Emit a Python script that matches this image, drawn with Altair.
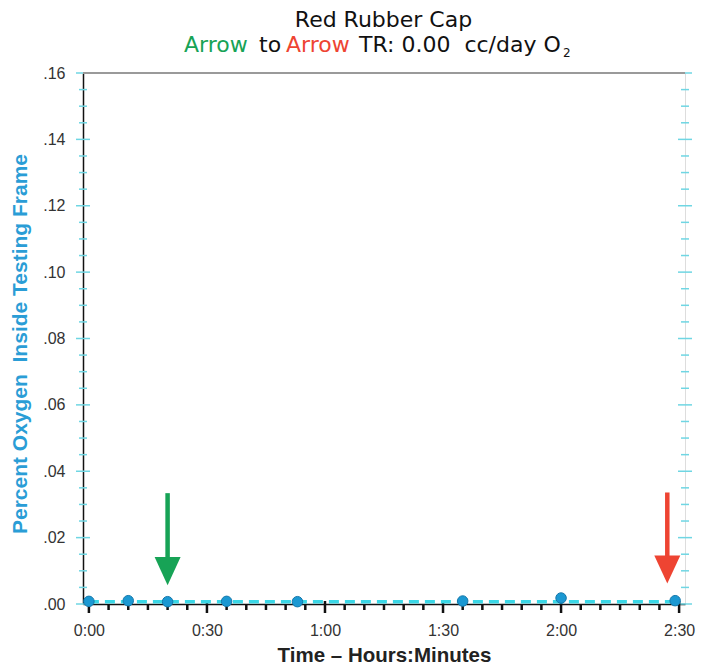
import altair as alt
import pandas as pd

# ---------------- data ----------------
time_min = [0, 10, 20, 35, 53, 95, 120, 149]
oxygen_pct = [0.0008, 0.0010, 0.0007, 0.0008, 0.0007, 0.0009, 0.0018, 0.0010]

fit_time = [0, 150]
fit_pct = [0.0007, 0.0007]

arrow_time = [20, 147]
arrow_top = [0.0334, 0.0336]
arrow_shaft_end = [0.0125, 0.0130]
arrow_head = [0.0099, 0.0104]
arrow_color = ["#17a356", "#ee4432"]

x_label_values = [0, 30, 60, 90, 120, 150]
y_label_values = [0.0, 0.02, 0.04, 0.06, 0.08, 0.10, 0.12, 0.14, 0.16]
x_minor_ticks = list(range(0, 151, 5))
y_minor_ticks = [round(i * 0.005, 3) for i in range(33)]

X_DOMAIN = [-1.5, 151.5]
Y_DOMAIN = [0, 0.16]
W, H = 602, 531

xs = alt.Scale(domain=X_DOMAIN, nice=False, zero=False)
ys = alt.Scale(domain=Y_DOMAIN, nice=False, zero=False)

pts = pd.DataFrame({"t": time_min, "pct": oxygen_pct})
fit = pd.DataFrame({"t": fit_time, "pct": fit_pct})
arrows = pd.DataFrame({"t": arrow_time, "top": arrow_top, "end": arrow_shaft_end,
                       "head": arrow_head, "c": arrow_color})

ytk_rows = []
for v in y_minor_ticks:
    major = abs(round(v / 0.02) * 0.02 - v) < 1e-9
    for side in X_DOMAIN:
        ytk_rows.append({"pct": v, "t": side, "len": 14 if major else 8})
ytk = pd.DataFrame(ytk_rows)

xtk = pd.DataFrame({"t": x_minor_ticks,
                    "pct": [0] * len(x_minor_ticks),
                    "len": [12 if v % 30 == 0 else 6 for v in x_minor_ticks]})

x_axis = alt.Axis(
    values=x_label_values,
    labelExpr="floor(datum.value/60) + ':' + (datum.value % 60 < 10 ? '0' : '') + (datum.value % 60)",
    ticks=False, tickSize=0, labelPadding=18, labelFlush=False, labelOverlap=False,
    labelFont="Liberation Sans", labelFontSize=16, labelColor="#333",
    domainColor="#111", domainWidth=1.5, grid=False,
    title="Time – Hours:Minutes", titleFont="Liberation Sans", titleFontSize=20.5,
    titleFontWeight="bold", titleColor="#222", titleX=W / 2, titleY=57,
    titleAlign="center", titleBaseline="alphabetic",
)
y_axis = alt.Axis(
    values=y_label_values,
    labelExpr="replace(format(datum.value, '.2f'), '0.', '.')",
    ticks=False, tickSize=0, labelPadding=18, labelFlush=False, labelOverlap=False,
    labelFont="Liberation Sans", labelFontSize=16, labelColor="#333",
    domainColor="#111", domainWidth=1.5, grid=False,
    title="Percent Oxygen\u00a0 Inside Testing Frame", titleFont="Liberation Sans",
    titleFontSize=21, titleFontWeight="bold", titleColor="#2a9dd6",
    titleX=-63, titleY=H / 2 + 5, titleAngle=-90, titleAlign="center", titleBaseline="middle",
)


def X(field):
    return alt.X(f"{field}:Q", scale=xs, axis=x_axis)


def Y(field):
    return alt.Y(f"{field}:Q", scale=ys, axis=y_axis)


points = alt.Chart(pts).mark_circle(size=110, color="#1b98d2", opacity=1,
                                    stroke="#1578ab", strokeWidth=1).encode(
    x=X("t"), y=Y("pct"),
)

y_ticks = alt.Chart(ytk).mark_tick(orient="horizontal", thickness=1.5, color="#6fd6e3",
                                   opacity=1).encode(
    x=X("t"), y=Y("pct"), size=alt.Size("len:Q", scale=None),
)

x_ticks = alt.Chart(xtk).mark_tick(orient="vertical", thickness=2.5, color="#111",
                                   opacity=1, yOffset=3).encode(
    x=X("t"), y=Y("pct"), size=alt.Size("len:Q", scale=None),
)

top_line = alt.Chart(pd.DataFrame({"pct": [Y_DOMAIN[1]]})).mark_rule(
    color="#9a9a9a", strokeWidth=2).encode(y=Y("pct"))

fit_line = alt.Chart(fit).mark_line(color="#3ad7e6", strokeWidth=3.5,
                                    strokeDash=[10, 6]).encode(
    x=X("t"), y=Y("pct"),
)

shafts = alt.Chart(arrows).mark_rule(strokeWidth=4.5, opacity=1).encode(
    x=X("t"), y=Y("top"), y2="end:Q",
    color=alt.Color("c:N", scale=None),
)

heads = alt.Chart(arrows).mark_point(shape="M-1,-1.08L1,-1.08L0,1.08Z", filled=True,
                                     size=676, opacity=1, strokeWidth=0).encode(
    x=X("t"), y=Y("head"),
    color=alt.Color("c:N", scale=None),
)

one = pd.DataFrame({"k": [0]})


def label(txt, x, y, color="#111", size=22, align="left"):
    return alt.Chart(one).mark_text(text=txt, font="DejaVu Sans", fontSize=size,
                                    color=color, align=align, baseline="alphabetic").encode(
        x=alt.value(x), y=alt.value(y))


texts = [
    label("Red Rubber Cap", 300.5, -46, align="center"),
    label("Arrow", 101, -21, color=arrow_color[0]),
    label("to", 176, -21),
    label("Arrow", 203, -21, color=arrow_color[1]),
    label("TR: 0.00\u00a0 cc/day O", 276, -21),
    label("2", 480, -16, size=12),
]

chart = alt.layer(
    y_ticks, x_ticks, top_line, fit_line, shafts, heads, points, *texts
).properties(
    width=W, height=H,
    autosize=alt.AutoSizeParams(type="none"),
    padding={"left": 75, "top": 65, "right": 20, "bottom": 62},
).configure_view(stroke="#222", strokeWidth=1.5).configure(background="white")

chart.save("out.html", embed_options={"renderer": "svg", "actions": False})
